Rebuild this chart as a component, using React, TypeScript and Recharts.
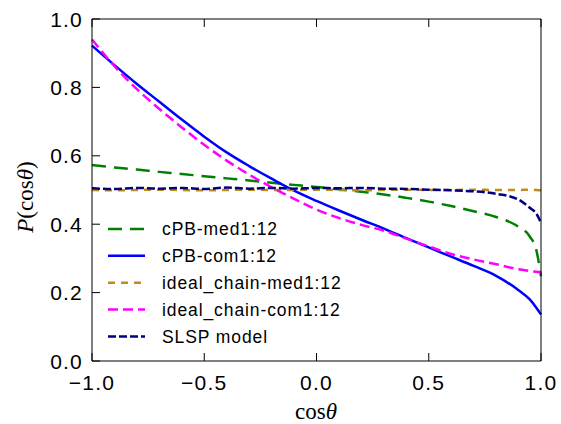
import React from 'react';
import { LineChart, Line, XAxis, YAxis, Legend } from 'recharts';

// cos(theta) sample points, denser near the end where the curves drop
const COS_THETA = [-1, -0.9, -0.8, -0.7, -0.6, -0.5, -0.4, -0.3, -0.2, -0.1, 0, 0.1, 0.2, 0.3, 0.4, 0.5, 0.6, 0.7, 0.8, 0.9, 0.95, 0.98, 1];

const CPB_MED = [0.573, 0.566, 0.56, 0.553, 0.547, 0.54, 0.534, 0.528, 0.521, 0.515, 0.509, 0.502, 0.495, 0.487, 0.477, 0.466, 0.453, 0.438, 0.421, 0.392, 0.364, 0.322, 0.248];
const CPB_COM = [0.922, 0.865, 0.81, 0.758, 0.706, 0.656, 0.61, 0.57, 0.533, 0.498, 0.468, 0.44, 0.413, 0.387, 0.359, 0.332, 0.305, 0.278, 0.249, 0.207, 0.18, 0.155, 0.136];
const IDEAL_MED = [0.5, 0.499, 0.5, 0.501, 0.5, 0.499, 0.5, 0.501, 0.5, 0.5, 0.501, 0.5, 0.499, 0.5, 0.501, 0.5, 0.5, 0.501, 0.5, 0.5, 0.501, 0.5, 0.499];
const IDEAL_COM = [0.94, 0.862, 0.795, 0.737, 0.683, 0.632, 0.586, 0.545, 0.508, 0.474, 0.443, 0.418, 0.398, 0.381, 0.358, 0.335, 0.313, 0.297, 0.283, 0.268, 0.263, 0.261, 0.26];
const SLSP = [0.505, 0.503, 0.506, 0.504, 0.506, 0.503, 0.507, 0.504, 0.506, 0.504, 0.506, 0.505, 0.506, 0.504, 0.503, 0.501, 0.499, 0.496, 0.489, 0.472, 0.448, 0.43, 0.404];

const X_TICKS = [-1, -0.5, 0, 0.5, 1];
const Y_TICKS = [0, 0.2, 0.4, 0.6, 0.8, 1];

const SERIES = [
  { key: 'cpbMed', name: 'cPB-med1:12', color: '#008000', dash: '14 8' },
  { key: 'cpbCom', name: 'cPB-com1:12', color: '#0000ff', dash: undefined },
  { key: 'idealMed', name: 'ideal_chain-med1:12', color: '#bf8a1e', dash: '7 6' },
  { key: 'idealCom', name: 'ideal_chain-com1:12', color: '#ff00ff', dash: '10 5' },
  { key: 'slsp', name: 'SLSP model', color: '#000080', dash: '8 3' },
];

const data = COS_THETA.map((x, i) => ({
  x,
  cpbMed: CPB_MED[i],
  cpbCom: CPB_COM[i],
  idealMed: IDEAL_MED[i],
  idealCom: IDEAL_COM[i],
  slsp: SLSP[i],
}));

const W = 561;
const H = 424;
const PLOT = { left: 92, right: 541, top: 19, bottom: 361 };
const TICK_LEN = 8;
const SANS = '"Liberation Sans", Arial, sans-serif';
const SERIF = '"Liberation Serif", "Times New Roman", serif';

const fmt = (v: number) => (v < 0 ? '\u2212' : '') + Math.abs(v).toFixed(1);

const BottomTick = ({ x, payload }: any) => (
  <g>
    <line x1={x} y1={PLOT.bottom} x2={x} y2={PLOT.bottom - TICK_LEN} stroke="#000" />
    <text x={x} y={390} textAnchor="middle" fontFamily={SANS} fontSize={21} letterSpacing={1.2} fill="#000">
      {fmt(payload.value)}
    </text>
  </g>
);

const TopTick = ({ x }: any) => (
  <line x1={x} y1={PLOT.top} x2={x} y2={PLOT.top + TICK_LEN} stroke="#000" />
);

const LeftTick = ({ y, payload }: any) => (
  <g>
    <line x1={PLOT.left} y1={y} x2={PLOT.left + TICK_LEN} y2={y} stroke="#000" />
    <text x={PLOT.left - 9} y={y} dy="0.36em" textAnchor="end" fontFamily={SANS} fontSize={21} letterSpacing={1.2} fill="#000">
      {fmt(payload.value)}
    </text>
  </g>
);

const RightTick = ({ y }: any) => (
  <line x1={PLOT.right} y1={y} x2={PLOT.right - TICK_LEN} y2={y} stroke="#000" />
);

const renderLegend = () => (
  <svg width={280} height={130}>
    {SERIES.map((s, i) => {
      const cy = 11 + i * 26.85;
      return (
        <g key={s.key}>
          <line x1={8} x2={45} y1={cy} y2={cy} stroke={s.color} strokeWidth={2.5} strokeDasharray={s.dash} />
          <text x={62} y={cy} dy="0.36em" fontFamily={SANS} fontSize={17.5} letterSpacing={0.9} fill="#000">
            {s.name}
          </text>
        </g>
      );
    })}
  </svg>
);

export default function App() {
  return (
    <div style={{ position: 'absolute', left: 0, top: 0, width: W, height: H, background: '#fff' }}>
      <LineChart width={W} height={H} data={data} margin={{ top: 0, right: 0, bottom: 0, left: 0 }}>
        <XAxis
          xAxisId="bottom"
          dataKey="x"
          type="number"
          domain={[-1, 1]}
          ticks={X_TICKS}
          height={H - PLOT.bottom}
          tickSize={0}
          tick={<BottomTick />}
          axisLine={{ stroke: '#000' }}
          label={{
            content: () => (
              <text x={316} y={419} textAnchor="middle" fontFamily={SERIF} fontSize={23} fill="#000">
                cos<tspan fontStyle="italic">θ</tspan>
              </text>
            ),
          }}
        />
        <XAxis
          xAxisId="top"
          orientation="top"
          dataKey="x"
          type="number"
          domain={[-1, 1]}
          ticks={X_TICKS}
          height={PLOT.top}
          tickSize={0}
          tick={<TopTick />}
          axisLine={{ stroke: '#000' }}
        />
        <YAxis
          yAxisId="left"
          type="number"
          domain={[0, 1]}
          ticks={Y_TICKS}
          width={PLOT.left}
          tickSize={0}
          tick={<LeftTick />}
          axisLine={{ stroke: '#000' }}
          label={{
            content: () => (
              <text
                x={33}
                y={197}
                transform="rotate(-90, 33, 197)"
                textAnchor="middle"
                fontFamily={SERIF}
                fontSize={23}
                fill="#000"
              >
                <tspan fontStyle="italic">P</tspan>(cos<tspan fontStyle="italic">θ</tspan>)
              </text>
            ),
          }}
        />
        <YAxis
          yAxisId="right"
          orientation="right"
          type="number"
          domain={[0, 1]}
          ticks={Y_TICKS}
          width={W - PLOT.right}
          tickSize={0}
          tick={<RightTick />}
          axisLine={{ stroke: '#000' }}
        />
        {SERIES.map((s) => (
          <Line
            key={s.key}
            xAxisId="bottom"
            yAxisId="left"
            type="monotone"
            dataKey={s.key}
            name={s.name}
            stroke={s.color}
            strokeWidth={2.5}
            strokeDasharray={s.dash}
            dot={false}
            activeDot={false}
            isAnimationActive={false}
          />
        ))}
        <Legend
          layout="vertical"
          align="center"
          verticalAlign="middle"
          content={renderLegend}
          wrapperStyle={{ left: 100, top: 218, width: 280, height: 130 }}
        />
      </LineChart>
    </div>
  );
}
